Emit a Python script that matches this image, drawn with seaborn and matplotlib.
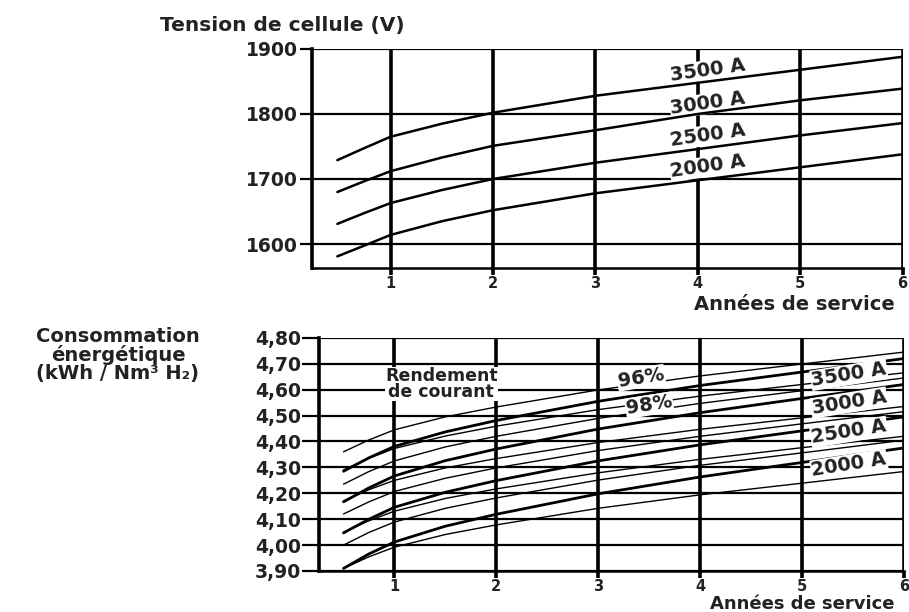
import pandas as pd
import seaborn as sns
import matplotlib
matplotlib.use('Agg')
import matplotlib.pyplot as plt

# --- top chart: cell voltage vs years of service ---
years_top = [0.48, 0.75, 1, 1.5, 2, 3, 4, 5, 6]
volt_3500 = [1729, 1748, 1765, 1785, 1802, 1828, 1848, 1868, 1888]
volt_3000 = [1680, 1697, 1712, 1733, 1751, 1775, 1800, 1821, 1839]
volt_2500 = [1631, 1648, 1663, 1683, 1700, 1725, 1746, 1767, 1786]
volt_2000 = [1581, 1598, 1614, 1635, 1652, 1678, 1698, 1718, 1738]
currents = ['3500 A', '3000 A', '2500 A', '2000 A']

# --- bottom chart: energy consumption ---
years_bot = [0.5, 0.75, 1, 1.5, 2, 3, 4, 5, 6]
# thick lines
cons_3500 = [4.285, 4.337, 4.381, 4.437, 4.481, 4.555, 4.616, 4.668, 4.720]
cons_3000 = [4.167, 4.221, 4.267, 4.326, 4.371, 4.448, 4.511, 4.566, 4.620]
cons_2500 = [4.047, 4.100, 4.146, 4.204, 4.249, 4.325, 4.387, 4.441, 4.495]
cons_2000 = [3.910, 3.966, 4.012, 4.073, 4.119, 4.198, 4.263, 4.319, 4.375]
# thin lines, 96 % current efficiency
eff96_3500 = [4.360, 4.406, 4.445, 4.495, 4.533, 4.599, 4.653, 4.699, 4.745]
eff96_3000 = [4.235, 4.284, 4.325, 4.379, 4.420, 4.489, 4.547, 4.596, 4.645]
eff96_2500 = [4.120, 4.167, 4.207, 4.258, 4.298, 4.365, 4.420, 4.468, 4.515]
eff96_2000 = [4.000, 4.049, 4.089, 4.142, 4.182, 4.251, 4.308, 4.356, 4.405]
# thin lines, 98 % current efficiency
eff98_3500 = [4.290, 4.335, 4.373, 4.421, 4.459, 4.523, 4.575, 4.620, 4.665]
eff98_3000 = [4.170, 4.214, 4.250, 4.298, 4.334, 4.396, 4.447, 4.491, 4.535]
eff98_2500 = [4.050, 4.094, 4.131, 4.180, 4.217, 4.279, 4.331, 4.376, 4.420]
eff98_2000 = [3.910, 3.955, 3.992, 4.041, 4.078, 4.142, 4.194, 4.239, 4.284]

top_ticks = [1600, 1700, 1800, 1900]
bot_ticks = [3.90, 4.00, 4.10, 4.20, 4.30, 4.40, 4.50, 4.60, 4.70, 4.80]
bot_tick_labels = ['3,90', '4,00', '4,10', '4,20', '4,30', '4,40', '4,50', '4,60', '4,70', '4,80']
x_ticks = [1, 2, 3, 4, 5, 6]

sns.set_theme(style='white')
plt.rcParams['font.family'] = ['DejaVu Sans']
plt.rcParams['font.weight'] = 'bold'

fig = plt.figure(figsize=(9.09, 6.12), dpi=100)
ax1 = fig.add_axes([0.343, 0.562, 0.650, 0.358])
ax2 = fig.add_axes([0.351, 0.067, 0.6435, 0.381])

top_df = pd.DataFrame({'year': years_top * 4,
                       'volt': volt_3500 + volt_3000 + volt_2500 + volt_2000,
                       'current': [c for c in currents for _ in years_top]})
for cur in currents:
    sub = top_df[top_df['current'] == cur]
    sns.lineplot(data=sub, x='year', y='volt', ax=ax1, color='black',
                 linewidth=1.8, zorder=5)

thick = [cons_3500, cons_3000, cons_2500, cons_2000]
thin96 = [eff96_3500, eff96_3000, eff96_2500, eff96_2000]
thin98 = [eff98_3500, eff98_3000, eff98_2500, eff98_2000]
for cur, a, b, c in zip(currents, thick, thin96, thin98):
    sns.lineplot(x=years_bot, y=a, ax=ax2, color='black', linewidth=2.0, zorder=5)
    sns.lineplot(x=years_bot, y=b, ax=ax2, color='black', linewidth=1.0, zorder=5)
    sns.lineplot(x=years_bot, y=c, ax=ax2, color='black', linewidth=1.0, zorder=5)

TXT = '#222222'


def style_axes(ax, yticks, ylabels, xlim, ylim, ylen):
    ax.set_xlim(*xlim)
    ax.set_ylim(*ylim)
    ax.set_xticks(x_ticks)
    ax.set_xticklabels([str(t) for t in x_ticks])
    ax.set_yticks(yticks)
    ax.set_yticklabels(ylabels)
    ax.set_xlabel('')
    ax.set_ylabel('')
    ax.grid(axis='y', color='black', linewidth=1.6, zorder=1)
    ax.grid(axis='x', color='black', linewidth=2.6, zorder=1)
    ax.set_axisbelow(True)
    for s in ['left', 'bottom']:
        ax.spines[s].set_visible(True)
        ax.spines[s].set_color('black')
        ax.spines[s].set_linewidth(2.6 if s == 'left' else 1.8)
    for s in ['top', 'right']:
        ax.spines[s].set_visible(False)
    ax.tick_params(axis='y', which='major', left=True, length=ylen, width=1.6,
                   color='black', direction='out', pad=1, labelsize=13.5)
    ax.tick_params(axis='x', which='major', bottom=True, length=5, width=2.6,
                   color='black', direction='out', pad=0.5, labelsize=10.5)
    for lab in ax.get_xticklabels() + ax.get_yticklabels():
        lab.set_fontweight('bold')
        lab.set_color(TXT)


style_axes(ax1, top_ticks, [str(t) for t in top_ticks], (0.23, 6.0), (1563, 1900), 9)
style_axes(ax2, bot_ticks, bot_tick_labels, (0.26, 6.0), (3.90, 4.80), 12)

box = dict(facecolor='white', edgecolor='none', pad=0.5)
txt = dict(fontsize=14, fontweight='bold', color=TXT, ha='center', va='center')

# current labels, top panel
for cur, yv in zip(currents, [1867, 1816, 1767, 1719]):
    ax1.text(4.1, yv, cur, rotation=8, bbox=box, zorder=3, **txt)

# current labels, bottom panel
for cur, yv in zip(currents, [4.657, 4.550, 4.437, 4.310]):
    ax2.text(5.46, yv, cur, rotation=9, bbox=box, zorder=6, **txt)

ax2.text(3.42, 4.646, '96%', rotation=9, bbox=box, zorder=6, **txt)
ax2.text(3.50, 4.540, '98%', rotation=9, bbox=box, zorder=6, **txt)
ax2.text(1.46, 4.622, 'Rendement\nde courant', linespacing=0.8, zorder=6,
         bbox=dict(facecolor='white', edgecolor='none', pad=0.3),
         **dict(txt, fontsize=12.5))

fig.text(160 / 909, 1 - 25 / 612, 'Tension de cellule (V)', fontsize=14.5,
         fontweight='bold', color=TXT, ha='left', va='center')
fig.text(895 / 909, 1 - 305 / 612, 'Années de service', fontsize=14,
         fontweight='bold', color=TXT, ha='right', va='center')
fig.text(895 / 909, 1 - 604 / 612, 'Années de service', fontsize=13,
         fontweight='bold', color=TXT, ha='right', va='center')
fig.text(118 / 909, 1 - 355 / 612, 'Consommation\nénergétique\n(kWh / Nm³ H₂)',
         fontsize=14, fontweight='bold', color=TXT, ha='center',
         va='center', linespacing=0.95)

fig.savefig('out.png', dpi=100, facecolor='white')
